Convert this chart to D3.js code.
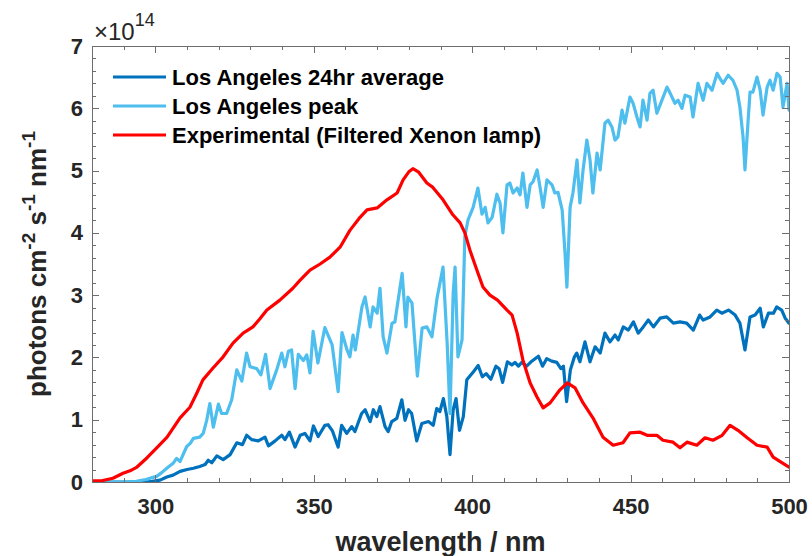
<!DOCTYPE html>
<html><head><meta charset="utf-8">
<script src="https://cdn.jsdelivr.net/npm/d3@7/dist/d3.min.js"></script>
<style>body{margin:0;background:#fff}svg{display:block}text{font-family:"Liberation Sans",Arial,Helvetica,sans-serif}</style>
</head><body><svg id="c" width="812" height="556"></svg>
<script>
// ---- data (values in units of 1e14 photons cm^-2 s^-1 nm^-1) ----
const seriesNames = ["Los Angeles 24hr average", "Los Angeles peak", "Experimental (Filtered Xenon lamp)"];
const seriesColors = ["#0072BD", "#4DBEEE", "#FF0000"];

const wlAvg = [
 280,290,297,299,301.5,303.6,305.6,307.8,310,312,
 314,315.7,316.7,317.8,319.4,321.4,323.6,325.7,327.5,328.8,
 330.4,332.5,334.6,335.7,337.8,339.9,340.9,342.3,344.1,345.7,
 347.2,348.8,349.9,351.4,353.5,354.5,355.9,357.7,358.8,360.4,
 362,363,365.1,366.2,367.8,368.8,369.9,370.9,372.5,373.5,
 374.6,376.2,377.8,378.8,379.9,380.9,382.5,384.1,386.2,387.7,
 388.8,389.8,390.9,392,393,394,394.9,396,397.2,398.3,
 400.4,401.9,403.2,404.4,405.9,407.5,408.5,409.6,411.1,412.5,
 413.5,414.6,415.6,417.2,418.8,420.9,422.2,423.5,425.1,426.7,
 428,428.8,429.8,431,432.2,433,434,435.6,437.2,438.8,
 440.4,441.9,443.5,445.1,446.1,447.7,449.3,450.9,452.4,454,
 455.6,457.2,459.3,461.4,463.5,465.6,467.7,469.8,471.8,472.9,
 475.1,477.2,478.8,480.9,483,484.5,486.1,487.7,489.3,490.9,
 491.9,493.5,495.1,496.1,497.7,498.8,500];
const avgVals = [
 0,0,0,0.01,0.03,0.08,0.11,0.17,0.20,0.22,
 0.25,0.28,0.35,0.31,0.42,0.36,0.44,0.63,0.60,0.75,
 0.68,0.66,0.72,0.58,0.66,0.75,0.68,0.80,0.56,0.75,
 0.78,0.66,0.90,0.73,0.91,0.92,0.82,0.56,0.91,0.78,
 0.89,0.81,1.10,1.16,0.97,1.16,1.05,1.21,0.89,0.81,
 0.97,1.02,1.32,0.99,1.16,1.10,0.66,0.94,0.97,0.91,
 1.18,1.13,1.34,1.05,0.44,1.16,1.34,0.83,1.05,1.64,
 1.77,1.87,1.69,1.74,1.65,1.86,1.82,1.60,1.93,1.88,
 1.92,1.86,1.92,1.86,1.94,2.02,1.86,1.98,1.94,1.92,
 1.82,1.86,1.29,1.80,2.00,2.07,1.93,2.25,1.93,2.17,
 2.07,2.39,2.25,2.36,2.28,2.49,2.44,2.57,2.39,2.49,
 2.60,2.49,2.63,2.65,2.55,2.57,2.55,2.44,2.68,2.60,
 2.65,2.76,2.71,2.76,2.68,2.55,2.12,2.65,2.68,2.79,
 2.49,2.71,2.71,2.81,2.76,2.63,2.55];

const wlPeak = [
 280,290,294,297,299,300.4,302,303.6,305.6,306.7,
 307.8,309.9,311,312,314,315.1,316.2,317.2,318.3,319.9,
 320.9,322.5,324.1,325.7,327.3,328.8,329.9,332,333.3,334.8,
 336.2,338.3,339.9,340.9,342,343,344.1,345.1,346.7,347.8,
 348.8,349.8,351.3,353.5,355.8,357.7,358.9,360.5,361.4,362.4,
 363.1,365.2,366.2,367.8,368.7,370,370.9,371.9,373.1,374.7,
 375.6,377.9,379.1,379.7,381,382.7,384.2,385.7,387.3,388.9,
 390.8,392.1,393,394,394.6,395.5,396.8,397.7,398.7,400.3,
 401.8,403.1,404.1,405,406.3,407.8,408.8,409.7,411,411.9,
 412.9,414.2,415.1,416,417.3,418.3,419.2,420.5,421.4,422.4,
 423.6,425.2,426.1,427.1,428.4,429.3,429.9,430.9,431.8,433.1,
 434,435,436.2,437.2,438.1,439.4,440.4,441.9,442.9,444.1,
 445.1,446,447.3,448.2,449.8,450.8,452,453,453.9,455.2,
 456.1,457.1,458.3,459.9,461.5,462.5,464,465,466.2,467.2,
 468.8,469.7,471.3,472.9,474.1,475.7,477.3,478.2,479.2,480.8,
 482.3,483.6,484.5,485.5,486.1,487.1,487.7,488.6,489.9,490.9,
 491.8,493.1,494,495,496.2,497.2,498.1,499.4,500];
const peakVals = [
 0,0,0.01,0.04,0.07,0.09,0.15,0.22,0.30,0.38,
 0.33,0.57,0.62,0.70,0.72,0.78,0.99,1.26,0.88,1.25,
 1.10,1.10,1.32,1.80,1.62,2.07,1.85,1.82,1.72,2.05,
 1.50,1.80,2.07,1.85,2.10,2.12,1.50,2.05,1.95,2.04,
 1.75,2.42,1.91,2.48,2.20,1.45,2.40,2.12,2.01,2.36,
 2.12,2.81,2.97,2.49,2.81,2.71,3.11,2.33,2.07,2.55,
 2.57,3.35,2.49,2.97,2.87,1.70,2.47,2.49,2.33,2.95,
 3.45,2.23,1.10,3.03,3.45,2.01,2.28,3.95,4.21,4.41,
 4.72,4.30,4.41,4.16,4.25,4.62,4.48,4.00,4.77,4.80,
 4.64,4.72,4.61,4.96,4.41,4.77,4.82,5.01,4.74,4.41,
 4.85,4.77,4.64,4.65,4.37,3.68,3.13,4.41,4.64,5.17,
 4.48,5.01,5.49,5.17,4.64,5.28,5.01,5.76,5.81,5.70,
 5.49,5.54,5.97,5.76,6.18,6.08,5.86,5.70,6.13,5.81,
 6.24,6.29,5.92,6.13,6.34,6.24,6.08,6.13,6.00,6.21,
 6.18,5.86,6.40,6.13,6.40,6.29,6.56,6.48,6.40,6.53,
 6.45,6.29,6.02,5.54,5.01,5.81,6.26,6.26,6.50,6.29,
 5.89,6.34,6.45,6.29,6.56,6.50,6.02,6.40,5.97];

const wlExp = [
 280,283,286.6,289.8,292,294.2,297.4,300.5,303.7,307.8,
 310.9,313.1,315,318.2,321.4,324.5,327.7,330.8,333,335.2,
 339.3,343.4,345.7,348.8,352,355.1,358.3,361.4,364.6,366.8,
 370,373.1,376.3,378.2,380,381.3,383,384.5,385.7,387.6,
 390.8,393.9,396.2,397.7,399.3,401.5,403.4,405.6,408,411,
 412.6,414.2,416,418.3,420.5,422.4,424.6,427.7,430,432.5,
 435,438.1,441.3,444.5,447.6,449.8,453,455.2,458.3,460.2,
 463.4,465.6,467.8,470.9,473.5,476,478.9,481.4,483.9,486.8,
 489.9,493.1,495,498.1,500];
const expVals = [
 0.02,0.02,0.06,0.14,0.18,0.24,0.39,0.55,0.72,1.03,
 1.20,1.43,1.64,1.83,2.01,2.23,2.39,2.49,2.62,2.76,
 2.92,3.11,3.24,3.40,3.50,3.61,3.77,4.04,4.25,4.37,
 4.40,4.53,4.64,4.85,4.98,5.03,4.98,4.88,4.80,4.73,
 4.53,4.29,4.16,4.00,3.72,3.40,3.13,3.00,2.92,2.76,
 2.68,2.39,1.96,1.59,1.36,1.19,1.27,1.48,1.59,1.51,
 1.27,1.03,0.72,0.59,0.63,0.79,0.80,0.75,0.75,0.67,
 0.64,0.55,0.64,0.59,0.71,0.67,0.75,0.91,0.83,0.71,
 0.59,0.56,0.40,0.30,0.24];

const xMajorTicks = [300, 350, 400, 450, 500];
const yMajorTicks = [0, 1, 2, 3, 4, 5, 6, 7];
const xLabel = "wavelength / nm";
const exponentLabel = "14";

// ---- layout ----
const m = {left: 92, right: 789, top: 46, bottom: 482};
const svg = d3.select("#c");
const x = d3.scaleLinear().domain([280, 500]).range([m.left, m.right]);
const y = d3.scaleLinear().domain([0, 7]).range([m.bottom, m.top]);

const axisCol = "#6e6e6e", textCol = "#262626";

// data lines
const series = [
  d3.zip(wlAvg, avgVals),
  d3.zip(wlPeak, peakVals),
  d3.zip(wlExp, expVals)
];
const line = d3.line().x(d => x(d[0])).y(d => y(d[1]));
svg.append("clipPath").attr("id","pc").append("rect")
  .attr("x", m.left).attr("y", m.top).attr("width", m.right-m.left).attr("height", m.bottom-m.top);
const lg = svg.append("g").attr("clip-path","url(#pc)");
series.forEach((s,i) => {
  lg.append("path").datum(s).attr("d", line)
    .attr("fill","none").attr("stroke", seriesColors[i]).attr("stroke-width", 3.2)
    .attr("stroke-linejoin","round").attr("stroke-linecap","round");
});

// ticks (inward on all four sides)
const xMinor = d3.range(280, 501, 10).filter(v => !xMajorTicks.includes(v));
const yMinor = d3.range(0, 7.001, 0.2).map(v => +v.toFixed(1)).filter(v => !yMajorTicks.includes(v));
const tg = svg.append("g").attr("stroke", axisCol).attr("stroke-width", 1).attr("shape-rendering","crispEdges");
function xt(v, len){
  const px = Math.round(x(v))+0.5;
  tg.append("line").attr("x1", px).attr("x2", px).attr("y1", m.bottom).attr("y2", m.bottom-len);
  tg.append("line").attr("x1", px).attr("x2", px).attr("y1", m.top).attr("y2", m.top+len);
}
function yt(v, len){
  const py = Math.round(y(v))+0.5;
  tg.append("line").attr("y1", py).attr("y2", py).attr("x1", m.left).attr("x2", m.left+len);
  tg.append("line").attr("y1", py).attr("y2", py).attr("x1", m.right).attr("x2", m.right-len);
}
xMajorTicks.forEach(v => xt(v, 7)); xMinor.forEach(v => xt(v, 4));
yMajorTicks.forEach(v => yt(v, 7)); yMinor.forEach(v => yt(v, 4));

// frame
svg.append("rect").attr("x", m.left+0.5).attr("y", m.top+0.5)
  .attr("width", m.right-m.left).attr("height", m.bottom-m.top)
  .attr("fill","none").attr("stroke", axisCol).attr("stroke-width",1).attr("shape-rendering","crispEdges");

// tick labels via d3 axes
const gx = svg.append("g").attr("transform", `translate(0,${m.bottom})`)
  .call(d3.axisBottom(x).tickValues(xMajorTicks).tickSize(0).tickPadding(16).tickFormat(d3.format("d")));
const gy = svg.append("g").attr("transform", `translate(${m.left},0)`)
  .call(d3.axisLeft(y).tickValues(yMajorTicks).tickSize(0).tickPadding(9).tickFormat(d3.format("d")));
[gx, gy].forEach(g => {
  g.select(".domain").remove();
  g.selectAll("text").attr("fill", textCol).style("font-size","22px").style("font-weight","bold")
    .style("font-family",'"Liberation Sans",Arial,sans-serif');
});

// exponent
const ex = svg.append("text").attr("x", 94).attr("y", 40).attr("fill", textCol)
  .style("font-size","24px");
ex.append("tspan").text("\u00D710");
ex.append("tspan").attr("dy", -14).style("font-size","18px").text(exponentLabel);

// x label
svg.append("text").attr("x", (m.left+m.right)/2).attr("y", 551).attr("text-anchor","middle")
  .attr("fill", textCol).style("font-size","27px").style("font-weight","bold").text(xLabel);

// y label with superscripts
const yl = svg.append("text").attr("transform", `translate(46,${(m.top+m.bottom)/2}) rotate(-90)`)
  .attr("text-anchor","middle").attr("fill", textCol).style("font-size","26px").style("font-weight","bold");
const ylParts = [["photons cm",0],["-2",1],[" s",0],["-1",1],[" nm",0],["-1",1]];
ylParts.forEach(([t,sup], k) => {
  const ts = yl.append("tspan").text(t);
  if (sup) ts.attr("dy", -11).style("font-size","19px");
  else ts.attr("dy", k === 0 ? 0 : 11);
});

// legend
const leg = svg.append("g");
seriesNames.forEach((n,i) => {
  const yy = 77 + i*29;
  leg.append("line").attr("x1",113).attr("x2",166).attr("y1",yy).attr("y2",yy)
    .attr("stroke", seriesColors[i]).attr("stroke-width",3.2);
  leg.append("text").attr("x",172).attr("y",yy).attr("dy","0.36em").attr("fill","#000")
    .style("font-size","22px").style("font-weight","bold").text(n);
});
</script></body></html>
